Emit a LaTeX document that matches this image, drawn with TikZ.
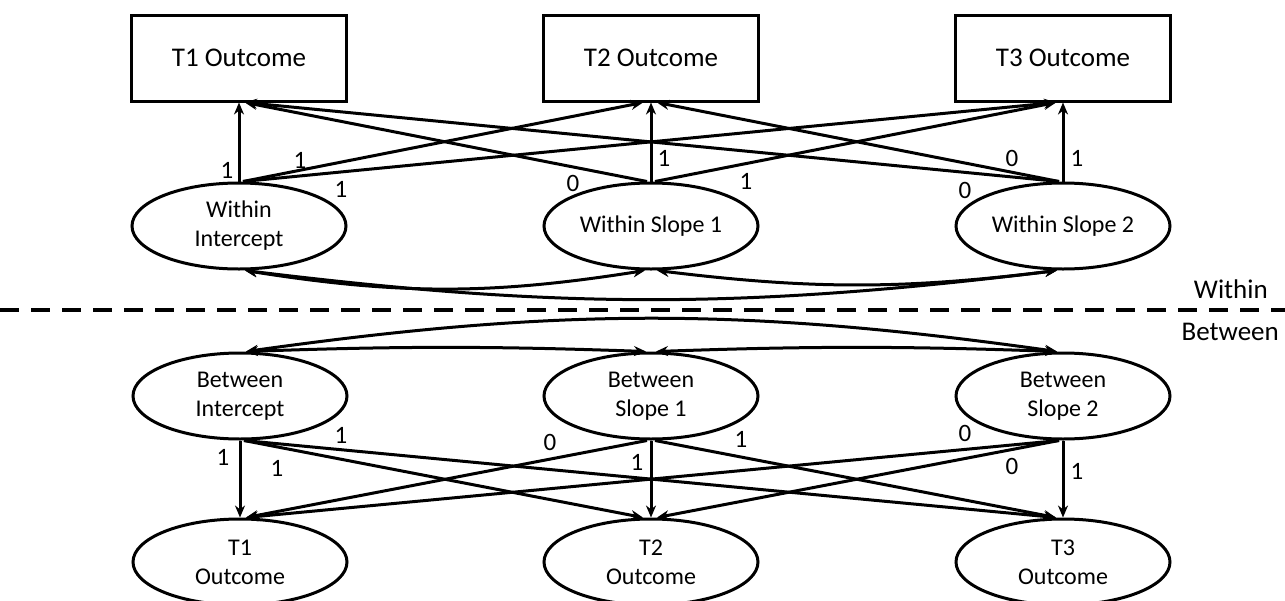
\documentclass[tikz,border=0pt]{standalone}
\usepackage{fontspec}
\setmainfont{Carlito}
\usetikzlibrary{shapes.geometric, arrows.meta, positioning}

\tikzset{
    obsbox/.style={draw, line width=3pt, minimum width=215pt, minimum height=86pt, inner sep=0pt, font=\fontsize{27}{32}\selectfont},
    latent/.style={draw, ellipse, line width=3pt, minimum width=214pt, minimum height=86pt, inner sep=0pt, align=center, font=\fontsize{24}{29}\selectfont},
    load/.style={line width=3pt, -{Stealth[length=12pt,width=10pt]}},
    cov/.style={line width=3pt, {Stealth[length=12pt,width=10pt]}-{Stealth[length=12pt,width=10pt]}},
    coef/.style={inner sep=0pt, font=\fontsize{25}{30}\selectfont},
    levlab/.style={anchor=east, inner sep=0pt, font=\fontsize{27}{32}\selectfont}
}

\begin{document}
\begin{tikzpicture}[x=1pt, y=-1pt]
    \useasboundingbox (0,0) rectangle (1285,600);

    % Within level
    \node[obsbox] (t1) at (239,58) {T1 Outcome};
    \node[obsbox] (t2) at (651,58) {T2 Outcome};
    \node[obsbox] (t3) at (1063,58) {T3 Outcome};

    \node[latent] (wi) at (239,226) {Within\\Intercept};
    \node[latent] (ws1) at (651,226) {Within Slope 1};
    \node[latent] (ws2) at (1063,226) {Within Slope 2};

    % Loadings (within)
    \foreach \src/\sx/\dst/\dx in {wi/0/t1/0, wi/4/t2/-8, wi/4/t3/-7,
                                   ws1/-4/t1/6, ws1/0/t2/0, ws1/4/t3/-7,
                                   ws2/-4/t1/6, ws2/-4/t2/6, ws2/0/t3/0} {
        \draw[load] ([xshift=\sx pt]\src.north) -- ([xshift=\dx pt]\dst.south);
    }

    \foreach \lab/\px/\py [count=\k] in {1/227/170, 1/300/160, 1/341/189,
                                         0/573/183, 1/664/158, 1/746/181,
                                         0/965/190, 0/1012/158, 1/1077/158} {
        \node[coef] (wc\k) at (\px,\py) {\lab};
    }

    % Within covariances
    \draw[cov] ([xshift=6pt]wi.south) to[bend right=9] ([xshift=-6pt]ws1.south);
    \draw[cov] ([xshift=6pt]ws1.south) to[bend right=7] ([xshift=-6pt]ws2.south);
    \draw[cov] ([xshift=6pt]wi.south) to[bend right=7] ([xshift=-6pt]ws2.south);

    % Level separator
    \draw[line width=3.5pt, dash pattern=on 19pt off 12pt] (0,310) -- (1285,310);
    \node[levlab] (within) at (1268,289) {Within};
    \node[levlab] (between) at (1279,332) {Between};

    % Between level
    \node[latent] (bi) at (240,396) {Between\\Intercept};
    \node[latent] (bs1) at (651,396) {Between\\Slope 1};
    \node[latent] (bs2) at (1063,396) {Between\\Slope 2};

    \node[latent] (o1) at (240,562) {T1\\Outcome};
    \node[latent] (o2) at (651,562) {T2\\Outcome};
    \node[latent] (o3) at (1063,562) {T3\\Outcome};

    % Between covariances
    \draw[cov] ([xshift=6pt]bi.north) to[bend left=2] ([xshift=-5pt]bs1.north);
    \draw[cov] ([xshift=5pt]bs1.north) to[bend left=2] ([xshift=-6pt]bs2.north);
    \draw[cov] ([xshift=6pt]bi.north) to[bend left=8] ([xshift=-6pt]bs2.north);

    % Loadings (between)
    \foreach \src/\sx/\dst/\dx in {bi/0/o1/0, bi/4/o2/-8, bi/4/o3/-7,
                                   bs1/-4/o1/6, bs1/0/o2/0, bs1/4/o3/-7,
                                   bs2/-4/o1/6, bs2/-4/o2/6, bs2/0/o3/0} {
        \draw[load] ([xshift=\sx pt]\src.south) -- ([xshift=\dx pt]\dst.north);
    }

    \foreach \lab/\px/\py [count=\k] in {1/223/457, 1/277/468, 1/341/435,
                                         0/550/442, 1/637/462, 1/741/439,
                                         0/965/433, 0/1012/466, 1/1077/471} {
        \node[coef] (bc\k) at (\px,\py) {\lab};
    }
\end{tikzpicture}
\end{document}
